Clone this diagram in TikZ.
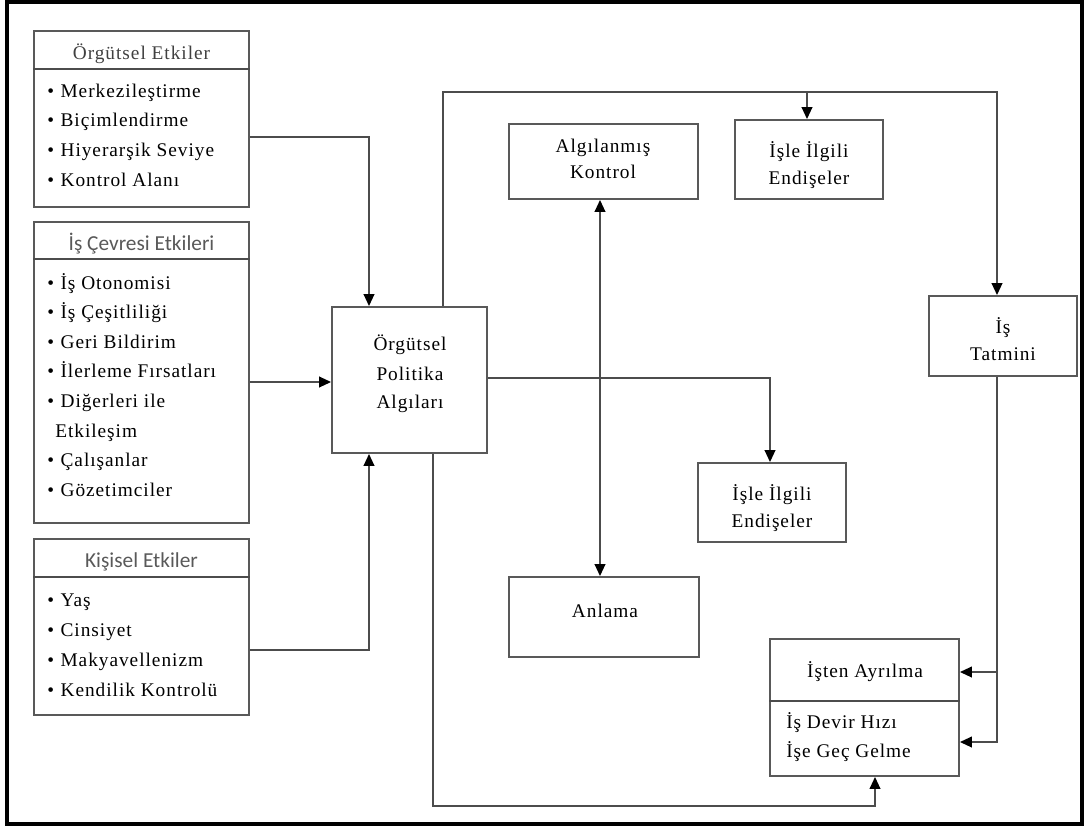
\documentclass[tikz,border=0pt]{standalone}
\usepackage{fontspec}
\setmainfont{Liberation Serif}
\newfontfamily\rmtext{Liberation Serif}[LetterSpace=5]
\newfontfamily\hdrfont{Carlito}
\usetikzlibrary{arrows.meta,fit}
\newcommand\bl{\makebox[10pt][l]{•}}
\begin{document}
\begin{tikzpicture}[x=0.75pt,y=-0.75pt,
  box/.style={draw=black!65, line width=1.4pt, inner sep=0pt},
  conn/.style={draw=black!70, line width=1.4pt},
  tip/.tip={Triangle[length=9pt,width=8pt,color=black]},
  arr/.style={conn,-tip},
  lbl/.style={anchor=base, inner sep=0pt, font=\rmtext\fontsize{14.5}{17}\selectfont, text=black},
  item/.style={lbl, anchor=base west},
  hdr/.style={anchor=base, inner sep=0pt, font=\hdrfont\fontsize{16}{19}\selectfont, text=black!65},
  shdr/.style={lbl, text=black!75}]
\useasboundingbox (0,0) rectangle (1084,829);
\draw[line width=3.5pt] (7,2) rectangle (1082,824);

% left boxes
\node[box, fit={(34,31) (249,207)}] (oe) {};
\draw[conn] (oe.west |- 0,69) -- (oe.east |- 0,69);
\node[shdr] (oeh) at (141.5,59) {Örgütsel Etkiler};
\foreach \t [count=\i from 0] in {Merkezileştirme, Biçimlendirme, Hiyerarşik Seviye, Kontrol Alanı}
  \node[item] (oe-\i) at (47, 97+29.7*\i) {\bl\t};

\node[box, fit={(34,222) (249,523)}] (ce) {};
\draw[conn] (ce.west |- 0,259) -- (ce.east |- 0,259);
\node[hdr] (ceh) at (141.5,250) {İş Çevresi Etkileri};
\foreach \t [count=\i from 0] in {{\bl İş Otonomisi}, {\bl İş Çeşitliliği}, {\bl Geri Bildirim}, {\bl İlerleme Fırsatları}, {\bl Diğerleri ile}, {\hspace*{6pt}Etkileşim}, {\bl Çalışanlar}, {\bl Gözetimciler}}
  \node[item] (ce-\i) at (47, 289+29.6*\i) {\t};

\node[box, fit={(34,539) (249,715)}] (ke) {};
\draw[conn] (ke.west |- 0,577) -- (ke.east |- 0,577);
\node[hdr] (keh) at (141.5,567) {Kişisel Etkiler};
\foreach \t [count=\i from 0] in {Yaş, Cinsiyet, Makyavellenizm, Kendilik Kontrolü}
  \node[item] (ke-\i) at (47, 606+30*\i) {\bl\t};

% center and right boxes
\node[box, fit={(332,307) (487,453)}] (pol) {};
\node[lbl] (pol-1) at (410,350) {Örgütsel};
\node[lbl] (pol-2) at (410,380) {Politika};
\node[lbl] (pol-3) at (410,408) {Algıları};

\node[box, fit={(509,124) (698,199)}] (ak) {};
\node[lbl] (ak-1) at (603,152) {Algılanmış};
\node[lbl] (ak-2) at (603,178) {Kontrol};

\node[box, fit={(735,120) (883,199)}] (ie1) {};
\node[lbl] (ie1-1) at (809,157) {İşle İlgili};
\node[lbl] (ie1-2) at (809,184) {Endişeler};

\node[box, fit={(929,296) (1077,376)}] (it) {};
\node[lbl] (it-1) at (1003,333) {İş};
\node[lbl] (it-2) at (1003,360) {Tatmini};

\node[box, fit={(698,463) (846,542)}] (ie2) {};
\node[lbl] (ie2-1) at (772,500) {İşle İlgili};
\node[lbl] (ie2-2) at (772,527) {Endişeler};

\node[box, fit={(509,577) (699,657)}] (an) {};
\node[lbl] (an-1) at (605,617) {Anlama};

\node[box, fit={(770,639) (959,776)}] (ia) {};
\draw[conn] (ia.west |- 0,701) -- (ia.east |- 0,701);
\node[lbl] (iah) at (865,677) {İşten Ayrılma};
\node[item] (ia-0) at (786,728) {İş Devir Hızı};
\node[item] (ia-1) at (786,757) {İşe Geç Gelme};

% connectors
\draw[arr] (oe.east |- 0,137) -| (369,0 |- pol.north);
\draw[arr] (ce.east |- 0,382) -- (pol.west |- 0,382);
\draw[arr] (ke.east |- 0,650) -| (369,0 |- pol.south);
\draw[arr] (443,0 |- pol.north) |- (997,92) -- (997,0 |- it.north);
\coordinate (br1) at (807,92);
\draw[arr] (br1) -- (br1 |- ie1.north);
\draw[arr] (pol.east |- 0,378) -| (770,0 |- ie2.north);
\draw[conn,tip-tip] (600,0 |- ak.south) -- (600,0 |- an.north);
\draw[arr] (997,0 |- it.south) |- (ia.east |- 0,742);
\coordinate (br2) at (997,672);
\draw[arr] (br2) -- (br2 -| ia.east);
\draw[arr] (433,0 |- pol.south) |- (875,806) -- (875,0 |- ia.south);
\end{tikzpicture}
\end{document}
